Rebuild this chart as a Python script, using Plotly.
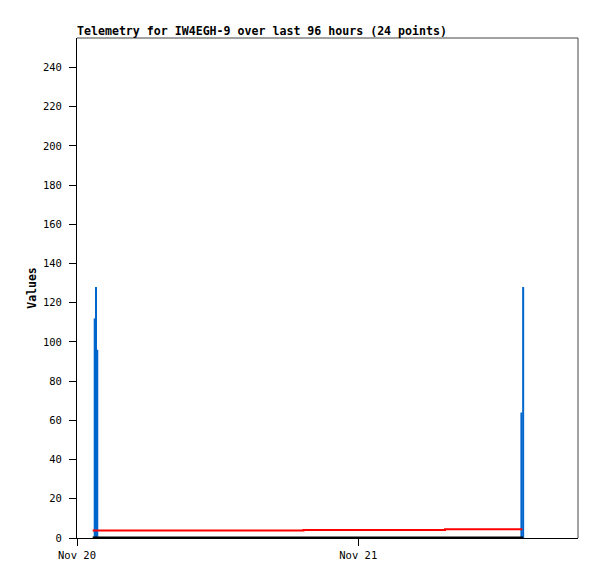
import plotly.graph_objects as go
from datetime import datetime, timedelta

base = datetime(2023, 11, 20)

def t(h):
    return base + timedelta(hours=h)

# Blue impulse series (hours since Nov 20 00:00, value)
blue_hours = [1.51, 1.62, 1.73, 37.92, 38.07]
blue_values = [112, 128, 96, 64, 128]

# Red step series
red_hours = [1.34, 19.33, 31.40, 38.00]
red_values = [3.8, 4.1, 4.5, 4.5]

# Black series at zero
black_hours = [1.34, 38.07]
black_values = [0, 0]

x_tick_hours = [0, 24]
x_tick_labels = ["Nov 20", "Nov 21"]
y_ticks = list(range(0, 241, 20))

fig = go.Figure()

bx, by = [], []
for h, v in zip(blue_hours, blue_values):
    bx += [t(h), t(h), None]
    by += [0, v, None]
fig.add_trace(go.Scatter(x=bx, y=by, mode="lines", line=dict(color="#0066cc", width=2),
                         showlegend=False, hoverinfo="skip"))

fig.add_trace(go.Scatter(x=[t(h) for h in red_hours], y=red_values, mode="lines",
                         line=dict(color="#ff0000", width=2, shape="hv"), showlegend=False))

fig.add_trace(go.Scatter(x=[t(h) for h in black_hours], y=black_values, mode="lines",
                         line=dict(color="#000000", width=3), showlegend=False))

font = dict(family="DejaVu Sans Mono", size=10, color="#000000")

fig.update_layout(
    width=597, height=579,
    margin=dict(l=77, r=19, t=38, b=41),
    paper_bgcolor="white", plot_bgcolor="white",
    font=font,
    title=dict(text="<b>Telemetry for IW4EGH-9 over last 96 hours (24 points)</b>",
               x=77/597, xanchor="left", xref="container",
               y=1 - 31/579, yanchor="middle", yref="container",
               font=dict(family="DejaVu Sans Mono", size=11.6, color="#000000")),
    xaxis=dict(range=[t(0), t(42.75)], tickvals=[t(h) for h in x_tick_hours],
               ticktext=x_tick_labels, showgrid=False, zeroline=False,
               showline=True, linecolor="#000000", linewidth=1,
               ticks="outside", ticklen=7, tickcolor="#000000",
               tickfont=dict(family="DejaVu Sans Mono", size=10.5)),
    yaxis=dict(range=[0, 255], tickvals=y_ticks, showgrid=False, zeroline=False,
               showline=True, linecolor="#000000", linewidth=1,
               ticks="outside", ticklen=7, tickcolor="#000000",
               ticklabelstandoff=5,
               tickfont=dict(family="DejaVu Sans Mono", size=10.5),
               title=dict(text="<b>Values</b>", standoff=3,
                          font=dict(family="DejaVu Sans Mono", size=11.5))),
    shapes=[
        dict(type="line", xref="paper", yref="paper", x0=0, x1=1, y0=1, y1=1,
             line=dict(color="#444444", width=1)),
        dict(type="line", xref="paper", yref="paper", x0=1, x1=1, y0=0, y1=1,
             line=dict(color="#444444", width=1)),
    ],
)

fig.write_html("out.html", config={"displayModeBar": False},
               post_script="document.body.style.margin='0';document.body.style.padding='0';")
